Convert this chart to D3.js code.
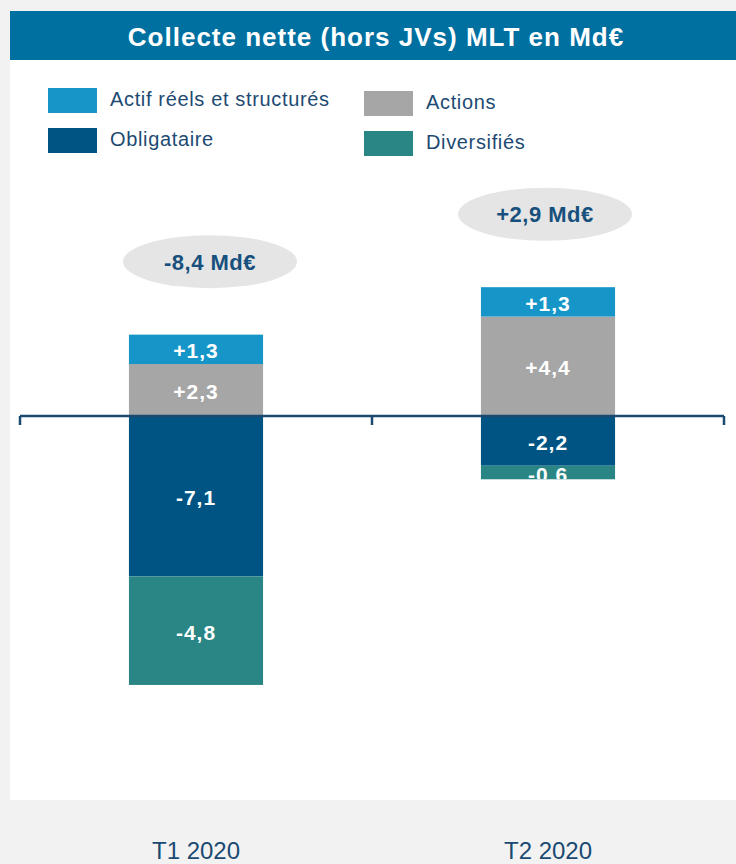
<!DOCTYPE html>
<html>
<head>
<meta charset="utf-8">
<script src="https://cdn.jsdelivr.net/npm/d3@7"></script>
<style>
  body { margin: 0; background: #f2f2f2; }
  svg { display: block; font-family: "Liberation Sans", Arial, sans-serif; }
</style>
</head>
<body>
<svg id="chart"></svg>
<script>
const categories = ["T1 2020", "T2 2020"];
const seriesNames = ["Actif réels et structurés", "Actions", "Obligataire", "Diversifiés"];
const actifReels = [1.3, 1.3];
const actions = [2.3, 4.4];
const obligataire = [-7.1, -2.2];
const diversifies = [-4.8, -0.6];
const totals = [-8.4, 2.9];
const colors = ["#1696c8", "#a6a6a6", "#005483", "#2a8585"];

const width = 736;
const height = 864;

const svg = d3.select("#chart")
    .attr("width", width)
    .attr("height", height);

// french style: comma decimal, plain hyphen for minus
const fmt = v => (v > 0 ? "+" : "") + d3.format(".1f")(v).replace(".", ",").replace("\u2212", "-");

// panel + header
svg.append("rect").attr("x", 10).attr("y", 11).attr("width", width - 10).attr("height", 789).attr("fill", "#fff");
svg.append("rect").attr("x", 10).attr("y", 11).attr("width", width - 10).attr("height", 49).attr("fill", "#0070a0");
svg.append("text")
    .attr("x", 376).attr("y", 46)
    .attr("text-anchor", "middle")
    .attr("fill", "#fff")
    .attr("font-size", 26).attr("font-weight", "bold")
    .attr("letter-spacing", 1)
    .text("Collecte nette (hors JVs) MLT en Md€");

// legend
const legend = svg.append("g");
seriesNames.forEach((name, i) => {
    const col = i % 2, row = Math.floor(i / 2);
    const x = col === 0 ? 48 : 364;
    const y = (row === 0 ? 88 : 128) + col * 3;
    legend.append("rect").attr("x", x).attr("y", y).attr("width", 49).attr("height", 25).attr("fill", colors[i]);
    legend.append("text")
        .attr("x", x + 62).attr("y", y + 18)
        .attr("fill", "#1d4a72")
        .attr("font-size", 20)
        .attr("letter-spacing", 0.65)
        .text(name);
});

const xScale = d3.scaleBand()
    .domain(categories)
    .range([20, 724])
    .paddingInner(0.619)
    .paddingOuter(0.3095);

const yScale = d3.scaleLinear()
    .domain([-8, 8])
    .range([416 + 8 * 22.6, 416 - 8 * 22.6]);

// stacked segments
const series = [actifReels, actions, obligataire, diversifies];
const segments = [];
categories.forEach((c, j) => {
    let pos = 0, neg = 0;
    // positives stack from zero: Actions first, then Actif réels on top
    [1, 0, 2, 3].forEach(s => {
        const v = series[s][j];
        let y0, y1;
        if (v >= 0) { y0 = pos; y1 = pos + v; pos = y1; }
        else { y0 = neg; y1 = neg + v; neg = y1; }
        segments.push({ cat: c, s, v, y0, y1, idx: segments.length });
    });
});

const defs = svg.append("defs");
defs.selectAll("clipPath")
    .data(segments)
    .join("clipPath")
    .attr("id", d => "clip" + d.idx)
    .append("rect")
    .attr("x", d => xScale(d.cat))
    .attr("y", d => yScale(Math.max(d.y0, d.y1)))
    .attr("width", xScale.bandwidth())
    .attr("height", d => Math.abs(yScale(d.y0) - yScale(d.y1)));

svg.append("g").selectAll("rect")
    .data(segments)
    .join("rect")
    .attr("x", d => xScale(d.cat))
    .attr("y", d => yScale(Math.max(d.y0, d.y1)))
    .attr("width", xScale.bandwidth())
    .attr("height", d => Math.abs(yScale(d.y0) - yScale(d.y1)))
    .attr("fill", d => colors[d.s]);

svg.append("g").selectAll("text")
    .data(segments)
    .join("text")
    .attr("clip-path", d => `url(#clip${d.idx})`)
    .attr("x", d => xScale(d.cat) + xScale.bandwidth() / 2)
    .attr("y", d => (yScale(d.y0) + yScale(d.y1)) / 2 + 9)
    .attr("text-anchor", "middle")
    .attr("fill", "#fff")
    .attr("font-size", 21).attr("font-weight", "bold")
    .attr("letter-spacing", 1)
    .text(d => fmt(d.v));

// zero line with boundary ticks
const zero = svg.append("g").attr("stroke", "#1b4a70").attr("stroke-width", 2.5);
const [r0, r1] = xScale.range();
zero.append("line").attr("x1", r0).attr("x2", r1).attr("y1", yScale(0)).attr("y2", yScale(0));
const bounds = categories.map(c => xScale(c) - xScale.step() * xScale.paddingInner() / 2).concat([r1]);
bounds[0] = r0;
zero.selectAll("line.tick")
    .data(bounds)
    .join("line")
    .attr("class", "tick")
    .attr("x1", d => d).attr("x2", d => d)
    .attr("y1", yScale(0)).attr("y2", yScale(0) + 9);

// total bubbles
const tops = categories.map((c, j) => d3.sum(series, s => Math.max(0, s[j])));
const bubbles = svg.append("g");
categories.forEach((c, j) => {
    const cx = xScale(c) + xScale.bandwidth() / 2 + (j === 0 ? 14 : -3);
    const cy = yScale(tops[j]) - 73;
    bubbles.append("ellipse").attr("cx", cx).attr("cy", cy).attr("rx", 87).attr("ry", 26.5).attr("fill", "#e5e5e5");
    bubbles.append("text")
        .attr("x", cx).attr("y", cy + 8)
        .attr("text-anchor", "middle")
        .attr("fill", "#17507c")
        .attr("font-size", 22).attr("font-weight", "bold")
        .attr("letter-spacing", 0.5)
        .text(fmt(totals[j]) + " Md€");
});

// category labels at the bottom
svg.append("g")
    .attr("transform", "translate(0, 842)")
    .call(d3.axisBottom(xScale).tickSize(0).tickPadding(0))
    .call(g => g.select(".domain").remove())
    .call(g => g.selectAll("text")
        .attr("dy", "0.71em")
        .attr("fill", "#1a4a72")
        .attr("font-size", 24)
        .attr("font-family", "Liberation Sans, Arial, sans-serif"));
</script>
</body>
</html>
